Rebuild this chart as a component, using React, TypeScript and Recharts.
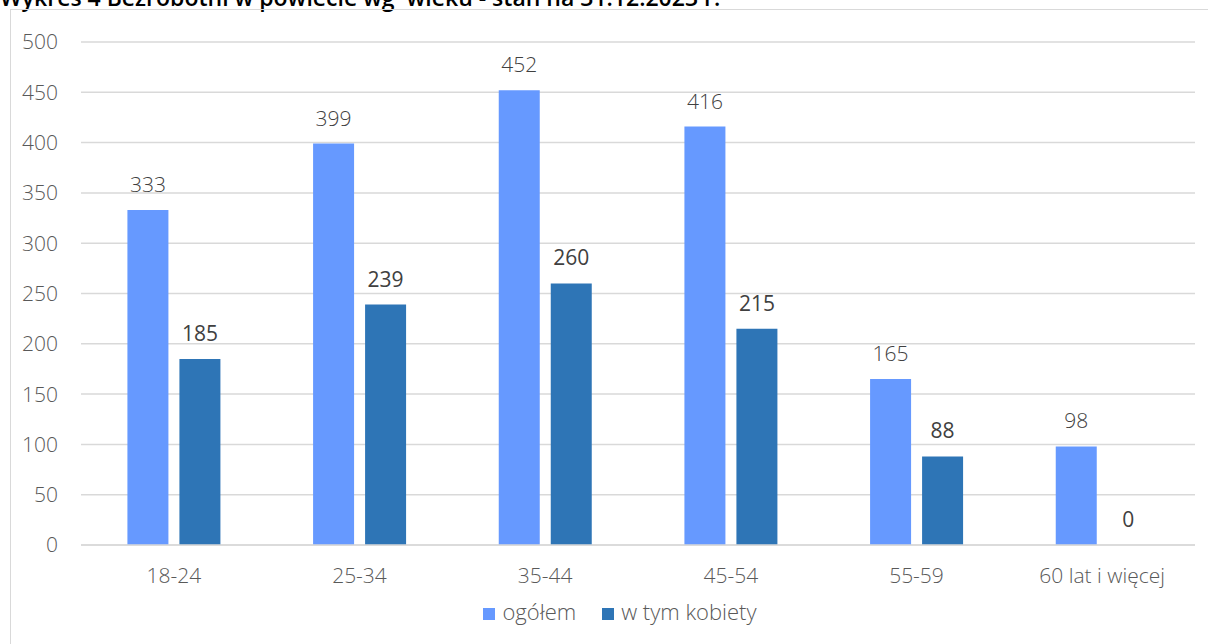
import React from "react";
import { BarChart, Bar, XAxis, YAxis, CartesianGrid, Legend, LabelList } from "recharts";

const categories = ["18-24", "25-34", "35-44", "45-54", "55-59", "60 lat i więcej"];
const ogolem = [333, 399, 452, 416, 165, 98];
const kobiety = [185, 239, 260, 215, 88, 0];
const yTicks = [0, 50, 100, 150, 200, 250, 300, 350, 400, 450, 500];

const data = categories.map((name, i) => ({ name, ogolem: ogolem[i], kobiety: kobiety[i] }));

const FONT = "'Open Sans', sans-serif";

// value label drawn above the bar top, also for zero-height bars
function makeLabel(weight: number) {
  return (props: any) => {
    const { x, y, width, value } = props;
    if (value === undefined || value === null) return null;
    return (
      <text
        x={Number(x) + Number(width) / 2}
        y={Number(y) - 18}
        textAnchor="middle"
        fill="#404040"
        fontSize={21}
        fontFamily={FONT}
        fontWeight={weight}
      >
        {value}
      </text>
    );
  };
}

export default function App() {
  return (
    <div
      style={{
        position: "fixed",
        left: 0,
        top: 0,
        width: 1208,
        height: 644,
        overflow: "hidden",
        background: "#fff",
        fontFamily: FONT,
      }}
    >
      <div
        style={{
          position: "absolute",
          left: 0,
          top: -14,
          fontSize: 23,
          lineHeight: "22px",
          fontWeight: 600,
          color: "#000",
          whiteSpace: "pre",
        }}
      >
        {"Wykres 4 Bezrobotni w powiecie wg  wieku - stan na 31.12.2023 r."}
      </div>
      <div
        style={{
          position: "absolute",
          left: 10,
          top: 9,
          width: 1210,
          height: 650,
          border: "1px solid #d9d9d9",
          boxSizing: "border-box",
        }}
      >
        <BarChart
          width={1198}
          height={640}
          data={data}
          margin={{ top: 32, right: 14, left: 0, bottom: 26 }}
          barCategoryGap="25%"
          barGap={11}
        >
          <CartesianGrid vertical={false} stroke="#d9d9d9" strokeWidth={1.5} />
          <XAxis
            dataKey="name"
            axisLine={{ stroke: "#d9d9d9", strokeWidth: 1.5 }}
            tickLine={false}
            tick={{ fill: "#595959", fontSize: 21, fontFamily: FONT, fontWeight: 300 }}
            tickMargin={17}
            height={53}
          />
          <YAxis
            domain={[0, 500]}
            ticks={yTicks}
            axisLine={false}
            tickLine={false}
            width={70}
            tickMargin={17}
            tick={{ fill: "#595959", fontSize: 21, fontFamily: FONT, fontWeight: 300 }}
          />
          <Legend
            verticalAlign="bottom"
            iconType="square"
            iconSize={12}
            wrapperStyle={{ fontFamily: FONT, fontSize: 22, fontWeight: 300, left: 30, lineHeight: "26px" }}
            formatter={(v) => (
              <span style={{ color: "#595959", marginLeft: 3, paddingRight: 16 }}>{v}</span>
            )}
          />
          <Bar dataKey="ogolem" name="ogółem" fill="#6699ff" isAnimationActive={false}>
            <LabelList dataKey="ogolem" content={makeLabel(300)} />
          </Bar>
          <Bar
            dataKey="kobiety"
            name="w tym kobiety"
            fill="#2e75b6"
            minPointSize={0.01}
            isAnimationActive={false}
          >
            <LabelList dataKey="kobiety" content={makeLabel(400)} />
          </Bar>
        </BarChart>
      </div>
    </div>
  );
}
